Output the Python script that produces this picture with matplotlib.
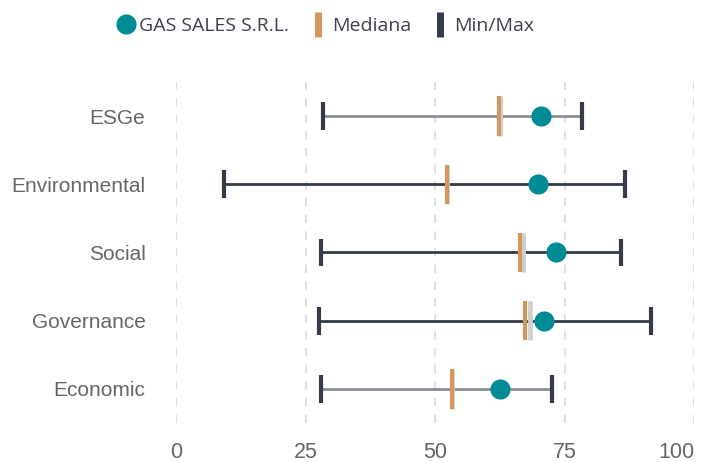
import matplotlib
matplotlib.use('Agg')
import matplotlib.pyplot as plt
from matplotlib.lines import Line2D

colors = {
    'teal': '#008b95',
    'orange': '#d4975a',
    'dark': '#343a4a',
    'grey': '#8c9097',
    'light': '#cfcfcf',
    'text': '#666666',
    'legend': '#3d4150',
}

categories = ['ESGe', 'Environmental', 'Social', 'Governance', 'Economic']
company = [70.5, 69.8, 73.4, 71.0, 62.6]
median = [62.3, 52.4, 66.5, 67.4, 53.2]
sector = [62.6, 52.4, 67.0, 68.3, 53.2]   # light grey marks behind the median
vmin = [28.3, 9.3, 28.0, 27.6, 28.0]
vmax = [78.3, 86.6, 85.9, 91.7, 72.6]
line_col = ['grey', 'dark', 'dark', 'dark', 'grey']

fig = plt.figure(figsize=(7.08, 4.62), dpi=100)
ax = fig.add_axes([176 / 708, 1 - 423 / 462, 518 / 708, 341 / 462])

ys = list(range(len(categories)))
for y, lo, hi, c in zip(ys, vmin, vmax, line_col):
    ax.hlines(y, lo, hi, color=colors[c], linewidth=2, zorder=2)
ax.vlines(vmin, [y - 0.205 for y in ys], [y + 0.205 for y in ys],
          color=colors['dark'], linewidth=3, zorder=3)
ax.vlines(vmax, [y - 0.205 for y in ys], [y + 0.205 for y in ys],
          color=colors['dark'], linewidth=3, zorder=3)
ax.vlines(sector, [y - 0.29 for y in ys], [y + 0.29 for y in ys],
          color=colors['light'], linewidth=3.5, zorder=3)
ax.vlines(median, [y - 0.29 for y in ys], [y + 0.29 for y in ys],
          color=colors['orange'], linewidth=3, zorder=4)
ax.plot(company, ys, 'o', color=colors['teal'], markersize=14.5,
        markeredgewidth=0, zorder=5, linestyle='none')

ax.set_xlim(0, 100)
ax.set_ylim(len(categories) - 0.5, -0.5)
ax.set_xticks([0, 25, 50, 75, 100])
ax.set_yticks(ys)
ax.set_yticklabels(categories)
ax.tick_params(length=0, labelcolor=colors['text'])
ax.tick_params(axis='y', pad=22, labelsize=15)
ax.tick_params(axis='x', pad=14, labelsize=15.5)
for lab in ax.get_xticklabels() + ax.get_yticklabels():
    lab.set_family('Liberation Sans')
# last label kept inside the chart edge
ax.get_xticklabels()[-1].set_horizontalalignment('right')
ax.grid(axis='x', color='#e0e0e0', linestyle=(0, (4, 4)), linewidth=1.5, zorder=0)
for s in ax.spines.values():
    s.set_visible(False)

handles = [
    Line2D([], [], marker='o', color=colors['teal'], linestyle='none',
           markersize=14.5, markeredgewidth=0),
    Line2D([], [], marker='|', color=colors['orange'], linestyle='none',
           markersize=18, markeredgewidth=5),
    Line2D([], [], marker='|', color=colors['dark'], linestyle='none',
           markersize=18, markeredgewidth=5),
]
fig.legend(handles, ['GAS SALES S.R.L.', 'Mediana', 'Min/Max'],
           loc='center', bbox_to_anchor=(325 / 708, 1 - 26 / 462), ncol=3,
           frameon=False, handlelength=1.0, handletextpad=0.2, columnspacing=1.0,
           prop={'family': 'Open Sans', 'size': 14}, labelcolor=colors['legend'])

fig.savefig('out.png', dpi=100)
